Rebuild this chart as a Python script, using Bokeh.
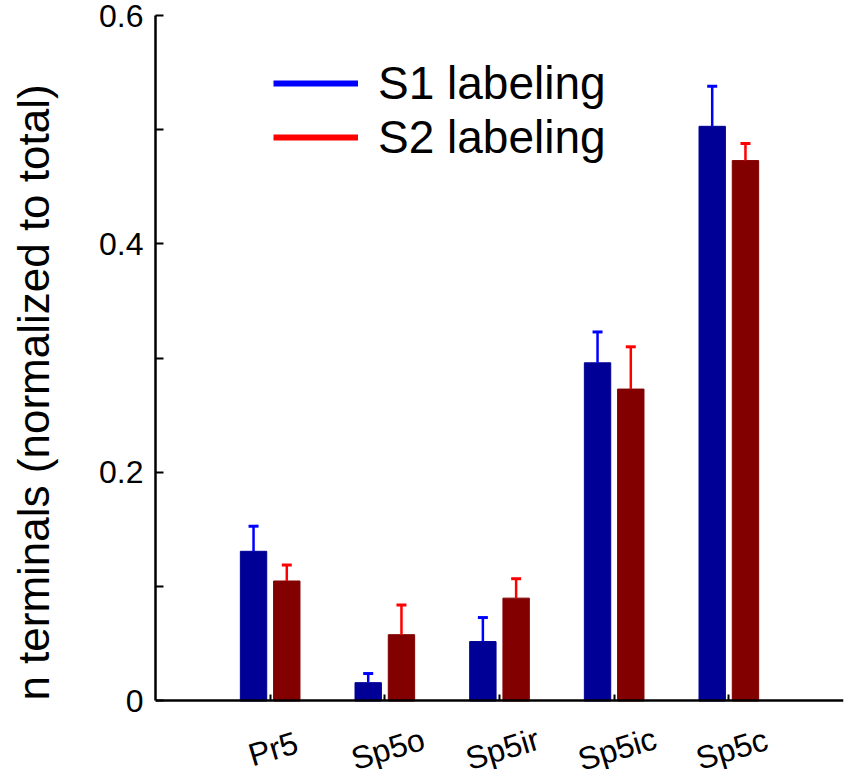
from bokeh.plotting import figure
from bokeh.models import (Range1d, FixedTicker, ColumnDataSource, LabelSet, Legend, LegendItem)
from bokeh.core.properties import value
from bokeh.embed import file_html
from bokeh.resources import INLINE

# ---- data ----
regions = ["Pr5", "Sp5o", "Sp5ir", "Sp5ic", "Sp5c"]
s1_values = [0.131, 0.016, 0.052, 0.296, 0.503]
s1_errors = [0.022, 0.008, 0.021, 0.027, 0.035]
s2_values = [0.105, 0.058, 0.090, 0.273, 0.473]
s2_errors = [0.014, 0.026, 0.017, 0.037, 0.015]
y_ticks = [0, 0.1, 0.2, 0.3, 0.4, 0.5, 0.6]
y_tick_labels = ["0", "", "0.2", "", "0.4", "", "0.6"]
series_names = ["S1 labeling", "S2 labeling"]

FONT = "Liberation Sans"
BAR_BLUE = "#000096"
BAR_RED = "#820000"
ERR_BLUE = "#0000ff"
ERR_RED = "#ff0000"

pos = list(range(1, len(regions) + 1))
off = 0.145
bw = 0.23

p = figure(frame_width=688, frame_height=754,
           x_range=Range1d(0, len(regions) + 1), y_range=Range1d(-0.06, 0.6),
           output_backend="svg", toolbar_location=None,
           min_border_left=155, min_border_top=15, min_border_right=2,
           min_border_bottom=0)
p.outline_line_color = None
p.xgrid.visible = False
p.ygrid.visible = False
p.background_fill_color = "white"

src = ColumnDataSource(dict(
    xb=[x - off for x in pos], xr=[x + off for x in pos],
    v1=s1_values, v2=s2_values,
    t1=[v + e for v, e in zip(s1_values, s1_errors)],
    t2=[v + e for v, e in zip(s2_values, s2_errors)],
))

p.vbar(x="xb", top="v1", bottom=0, width=bw, source=src,
       fill_color=BAR_BLUE, line_color=BAR_BLUE)
p.vbar(x="xr", top="v2", bottom=0, width=bw, source=src,
       fill_color=BAR_RED, line_color=BAR_RED)

# error bars (upper only)
p.segment(x0="xb", y0="v1", x1="xb", y1="t1", source=src, line_color=ERR_BLUE, line_width=2.5)
p.segment(x0="xr", y0="v2", x1="xr", y1="t2", source=src, line_color=ERR_RED, line_width=2.5)
p.scatter(x="xb", y="t1", source=src, marker="dash", size=10, line_color=ERR_BLUE, line_width=3)
p.scatter(x="xr", y="t2", source=src, marker="dash", size=10, line_color=ERR_RED, line_width=3)

# axes
xa = p.xaxis[0]
xa.fixed_location = 0
xa.ticker = FixedTicker(ticks=pos)
xa.major_label_text_font_size = "0px"
xa.major_label_text_alpha = 0
xa.major_tick_in = 6
xa.major_tick_out = 0
xa.minor_tick_line_color = None
xa.axis_line_width = 2.5
xa.major_tick_line_width = 2
xa.axis_line_color = "black"

ya = p.yaxis[0]
ya.bounds = (0, 0.6)
ya.ticker = FixedTicker(ticks=y_ticks)
ya.major_label_overrides = {t: l for t, l in zip(y_ticks, y_tick_labels)}
ya.major_tick_in = 8
ya.major_tick_out = 0
ya.minor_tick_line_color = None
ya.axis_line_width = 2.5
ya.major_tick_line_width = 2
ya.major_label_text_font = FONT
ya.major_label_text_font_size = "32px"
ya.major_label_text_color = "black"
ya.major_label_standoff = 12
ya.axis_label = "n terminals (normalized to total)"
ya.axis_label_text_font = FONT
ya.axis_label_text_font_size = "44px"
ya.axis_label_text_font_style = "normal"
ya.axis_label_text_color = "black"
ya.axis_label_standoff = 38

# category labels (rotated, centred on the ticks)
lab_src = ColumnDataSource(dict(x=pos, y=[0] * len(pos), text=regions))
p.add_layout(LabelSet(x="x", y="y", text="text", source=lab_src,
                      x_offset=3, y_offset=-48, angle=0.29,
                      text_align="center", text_baseline="middle",
                      text_font=value(FONT), text_font_size=value("32px"),
                      text_color="black"))

# legend
r1 = p.line(x=[0, 0], y=[0, 0], line_color=ERR_BLUE, line_width=6, visible=False)
r2 = p.line(x=[0, 0], y=[0, 0], line_color=ERR_RED, line_width=6, visible=False)
legend = Legend(items=[LegendItem(label=series_names[0], renderers=[r1]),
                       LegendItem(label=series_names[1], renderers=[r2])],
                location=(118, 605), orientation="vertical",
                glyph_width=85, glyph_height=48, label_height=48,
                label_standoff=20, spacing=0, padding=0, margin=0,
                border_line_color=None, background_fill_alpha=0,
                label_text_font=FONT, label_text_font_size="46px",
                label_text_color="black", label_text_baseline="middle")
p.add_layout(legend)

open("out.html", "w").write(file_html(p, INLINE))
